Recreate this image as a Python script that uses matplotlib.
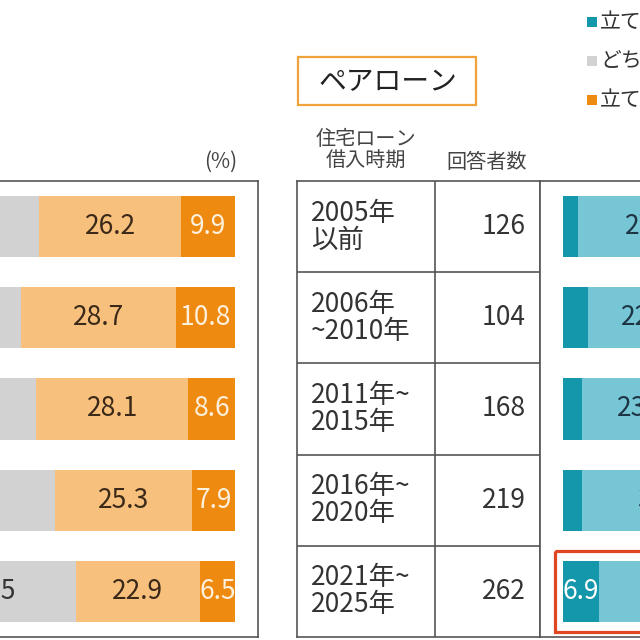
import numpy as np
import matplotlib
matplotlib.use("Agg")
import matplotlib.pyplot as plt
from matplotlib.patches import Rectangle

plt.rcParams['font.family'] = ['Noto Sans CJK JP', 'DejaVu Sans']

# Zeitraum der Kreditaufnahme / Anzahl Antworten
perioden = ["2005年\n以前", "2006年\n~2010年", "2011年~\n2015年", "2016年~\n2020年", "2021年~\n2025年"]
antworten = [126, 104, 168, 219, 262]

# linkes Panel (nur teilweise sichtbar)
l_tate = [4.8, 5.2, 4.0, 4.4, 6.3]
l_dochira_tate = [28.3, 25.7, 27.4, 28.7, 32.8]
l_neutral = [30.8, 29.6, 31.9, 33.7, 31.5]
l_dochira_nicht = [26.2, 28.7, 28.1, 25.3, 22.9]
l_nicht = [9.9, 10.8, 8.6, 7.9, 6.5]

# rechtes Panel: ペアローン
r_tate = [2.9, 4.8, 3.7, 3.7, 6.9]
r_dochira_tate = [27.8, 22.4, 23.4, 31.2, 30.6]
r_neutral = [33.3, 35.6, 34.5, 33.0, 33.9]
r_dochira_nicht = [25.4, 26.7, 27.4, 24.2, 22.1]
r_nicht = [10.6, 10.5, 11.0, 7.9, 6.5]

legende = ["立てている", "どちらともいえない", "立てていない"]

farben = ["#1597ab", "#76c6d5", "#d2d2d2", "#f7c07c", "#ef8a10"]
textfarben = ["#ffffff", "#1e3444", "#333333", "#3a2818", "#fdf0dc"]

W = 640.0


def px(x, y):
    return x / W, 1 - y / W


def ax_box(x0, x1, y0=181, y1=637):
    return [x0 / W, 1 - y1 / W, (x1 - x0) / W, (y1 - y0) / W]


def balken(ax, serien):
    rows = np.arange(5)
    links = np.zeros(5)
    for i, werte in enumerate(serien):
        werte = np.array(werte)
        ax.barh(rows, werte, left=links, height=0.67, color=farben[i], linewidth=0)
        for r in rows:
            if werte[r] >= 5:
                ax.text(links[r] + werte[r] / 2, r, f"{werte[r]:.1f}", ha="center", va="center",
                        fontsize=19, color=textfarben[i], clip_on=True)
        links += werte
    ax.set_ylim(4.5, -0.5)
    ax.set_xticks([])
    ax.set_yticks([])
    for s in ax.spines.values():
        s.set_color("#555555")
        s.set_linewidth(1.2)


fig = plt.figure(figsize=(6.4, 6.4), dpi=100)

# linkes Panel
ax1 = fig.add_axes(ax_box(-10, 258))
balken(ax1, [l_tate, l_dochira_tate, l_neutral, l_dochira_nicht, l_nicht])
s1 = 5.42
ax1.set_xlim(100 - 245 / s1, 100 + 23 / s1)

# Tabelle
axt = fig.add_axes(ax_box(297, 540))
axt.set_xlim(297, 540)
axt.set_ylim(4.5, -0.5)
axt.set_xticks([])
axt.set_yticks([])
for s in axt.spines.values():
    s.set_color("#555555")
    s.set_linewidth(1.2)
axt.axvline(435, color="#555555", lw=1.2)
for b in np.arange(0.5, 4.5, 1):
    axt.axhline(b, color="#555555", lw=1.2)
for r, (p, n) in enumerate(zip(perioden, antworten)):
    axt.text(311, r, p, ha="left", va="center", fontsize=19, color="#333333", linespacing=1.0)
    axt.text(526, r, str(n), ha="right", va="center", fontsize=19, color="#333333")

# rechtes Panel
ax2 = fig.add_axes(ax_box(540, 1106))
balken(ax2, [r_tate, r_dochira_tate, r_neutral, r_dochira_nicht, r_nicht])
s2 = 5.2
ax2.set_xlim(-23 / s2, -23 / s2 + 566 / s2)
ax2.add_patch(Rectangle((-1.55, 4 - 0.445), 103.5, 0.89, fill=False,
                        edgecolor="#e0461f", linewidth=2.3, zorder=5))

# Titel und Kopfzeilen
fig.add_artist(Rectangle(px(298, 105), 178 / W, 48 / W, transform=fig.transFigure,
                         facecolor="white", edgecolor="#f0a33a", linewidth=1.6))
fig.text(*px(388, 82), "ペアローン", ha="center", va="center", fontsize=20, color="#222222")
fig.text(*px(366, 150), "住宅ローン\n借入時期", ha="center", va="center", fontsize=14.5, color="#444444",
         linespacing=1.05)
fig.text(*px(487, 162), "回答者数", ha="center", va="center", fontsize=14.5, color="#444444")
fig.text(*px(221, 162), "(%)", ha="center", va="center", fontsize=15, color="#444444")

# Legende (nur erste Spalte sichtbar)
for i, (lab, fa) in enumerate(zip(legende, [farben[0], farben[2], farben[4]])):
    y = 22 + 39 * i
    fig.add_artist(Rectangle(px(587, y + 5), 10 / W, 10 / W, transform=fig.transFigure,
                             facecolor=fa, edgecolor="none"))
    fig.text(*px(600, y), lab, ha="left", va="center", fontsize=15, color="#333333")

fig.savefig("out.png", dpi=100)
